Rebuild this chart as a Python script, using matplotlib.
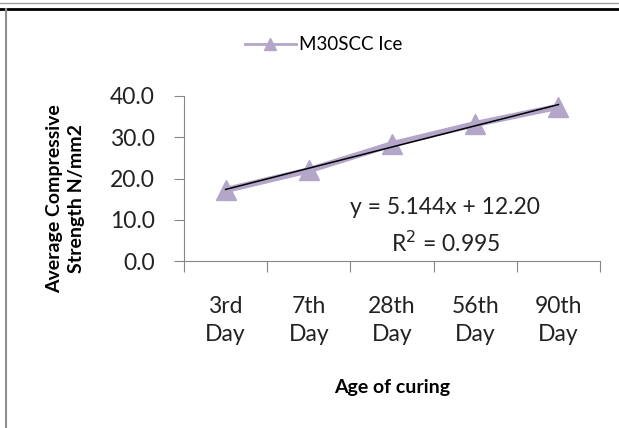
import matplotlib
matplotlib.use("Agg")
import matplotlib.pyplot as plt
from matplotlib.lines import Line2D
import numpy as np

categories = ["3rd\nDay", "7th\nDay", "28th\nDay", "56th\nDay", "90th\nDay"]
strength = [17.2, 22.0, 28.3, 33.2, 37.4]
series_name = "M30SCC Ice"
trend_slope = 5.144
trend_intercept = 12.20
r_squared = 0.995
y_ticks = [0, 10, 20, 30, 40]

plt.rcParams['font.family'] = ['Lato', 'DejaVu Sans']

W, H = 619, 428
fig = plt.figure(figsize=(W/100, H/100), dpi=100)
ax = fig.add_axes([184/W, 1 - 261/H, (600-184)/W, (261-96)/H])

x = np.arange(1, len(categories) + 1)
purple = '#b3a6c9'
ax.plot(x, strength, color=purple, lw=4.5, marker='^', markersize=15,
        markerfacecolor=purple, markeredgecolor=purple, zorder=2)
xt = np.array([x[0], x[-1]])
ax.plot(xt, trend_slope * xt + trend_intercept, color='black', lw=1.1, zorder=3)

ax.set_xlim(0.5, len(categories) + 0.5)
ax.set_ylim(0, 40)
ax.set_yticks(y_ticks)
ax.set_yticklabels([f"{v:.1f}" for v in y_ticks])
ax.set_xticks(np.arange(0.5, len(categories) + 1, 1.0))
ax.set_xticklabels([])
ax.set_xticks(x, minor=True)
ax.set_xticklabels(categories, minor=True, fontsize=16.5, linespacing=1.45, color='#222222')
ax.tick_params(axis='x', which='minor', length=0, pad=25)
ax.tick_params(axis='x', which='major', length=8, color='#868686', direction='out')
ax.tick_params(axis='y', length=7, color='#868686', direction='out', labelsize=16.5,
               pad=14, labelcolor='#222222')
for s in ['top', 'right']:
    ax.spines[s].set_visible(False)
for s in ['left', 'bottom']:
    ax.spines[s].set_color('#868686')

fig.text(66/W, 1 - 199/H, "Average Compressive\nStrength N/mm2", rotation=90,
         ha='center', va='center', multialignment='center', fontsize=14, fontweight='bold',
         linespacing=1.35)
fig.text(392/W, 1 - 387/H, "Age of curing", ha='center', va='center', fontsize=14,
         fontweight='bold')

ax.text(3.64, 12.85, f"y = {trend_slope:.3f}x + {trend_intercept:.2f}", ha='center', va='center',
        fontsize=16.5, color='#222222')
ax.text(3.64, 4.4, f"R$^2$ = {r_squared:.3f}", ha='center', va='center', fontsize=16.5,
        color='#222222')

handle = Line2D([], [], color=purple, lw=2, marker='^', markersize=9,
                markerfacecolor=purple, markeredgecolor=purple)
leg = fig.legend([handle], [series_name], loc='center left', bbox_to_anchor=(228/W, 1 - 45/H),
                 frameon=False, fontsize=13.5, handlelength=2.7, handletextpad=0.2)

# frame lines
fig.add_artist(Line2D([0, 1], [1 - 3/H, 1 - 3/H], color='#a0a0a0', lw=1, transform=fig.transFigure))
fig.add_artist(Line2D([0, 1], [1 - 9/H, 1 - 9/H], color='black', lw=2, transform=fig.transFigure))
fig.add_artist(Line2D([6/W, 6/W], [0, 1 - 9/H], color='#909090', lw=1.5, transform=fig.transFigure))

fig.savefig("out.png", dpi=100)
